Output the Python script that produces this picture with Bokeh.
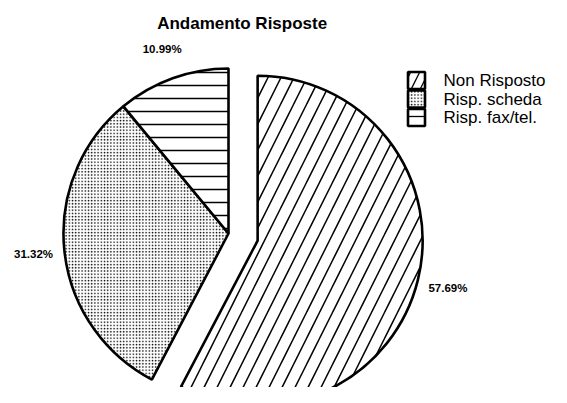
import math
from bokeh.plotting import figure
from bokeh.models import Range1d
from bokeh.core.properties import value
from bokeh.embed import file_html
from bokeh.resources import INLINE

# ---- data ----
categories = ["Non Risposto", "Risp. scheda", "Risp. fax/tel."]
shares = [57.69, 31.32, 10.99]
pct_labels = ["57.69%", "31.32%", "10.99%"]
title_text = "Andamento  Risposte"

# ---- styles ----
hatches = ["/", ".", "-"]
hatch_scales = [26, 3.2, 13]
legend_hatch_scales = [18, 3.2, 11]
explode = [30, 0, 0]
W, H = 551, 387
TOP = 403                 # data y of image row 0
CX, CY = 228, TOP - 233   # unexploded pie centre (data units = px)
R = 165
LABEL_R = 196

p = figure(width=W, height=H, output_backend="svg", toolbar_location=None,
           x_range=Range1d(0, W), y_range=Range1d(TOP - H, TOP),
           min_border=0, outline_line_color=None)
p.axis.visible = False
p.grid.visible = False
p.background_fill_color = "white"

total = sum(shares)
starts, ends, xs, ys, lx, ly = [], [], [], [], [], []
cum = 0.0
for v, e in zip(shares, explode):
    a0 = math.pi / 2 - 2 * math.pi * cum / total
    a1 = a0 - 2 * math.pi * v / total
    mid = (a0 + a1) / 2
    cx = CX + e * math.cos(mid)
    cy = CY + e * math.sin(mid)
    starts.append(a0); ends.append(a1); xs.append(cx); ys.append(cy)
    lx.append(cx + LABEL_R * math.cos(mid)); ly.append(cy + LABEL_R * math.sin(mid))
    cum += v

for i in range(len(shares)):
    p.wedge(x=xs[i], y=ys[i], radius=R, start_angle=starts[i], end_angle=ends[i],
            direction="clock", fill_color="white", line_color="black", line_width=2.6,
            hatch_pattern=hatches[i], hatch_scale=hatch_scales[i], hatch_color="black",
            hatch_weight=1.5 if i != 1 else 1.0)

p.text(x=lx, y=ly, text=pct_labels, text_align="center", text_baseline="middle",
       text_font=value("Liberation Sans"), text_font_size="11.5px", text_font_style="bold",
       text_color="black")

# title
p.text(x=[244], y=[TOP - 23], text=[title_text], text_align="center", text_baseline="middle",
       text_font=value("Liberation Sans"), text_font_size="17px", text_font_style="bold",
       text_color="black")

# legend
box_x = 416
row_y = [TOP - 80, TOP - 98.5, TOP - 117]
for i in range(len(categories)):
    p.rect(x=box_x, y=row_y[i], width=17, height=17, fill_color="white",
           line_color="black", line_width=2.6, hatch_pattern=hatches[i],
           hatch_scale=legend_hatch_scales[i], hatch_color="black", hatch_weight=1.3)
p.text(x=[443] * 3, y=row_y, text=categories, text_align="left", text_baseline="middle",
       text_font=value("Liberation Sans"), text_font_size="17px", text_color="black")

open("out.html", "w").write(file_html(p, INLINE))
